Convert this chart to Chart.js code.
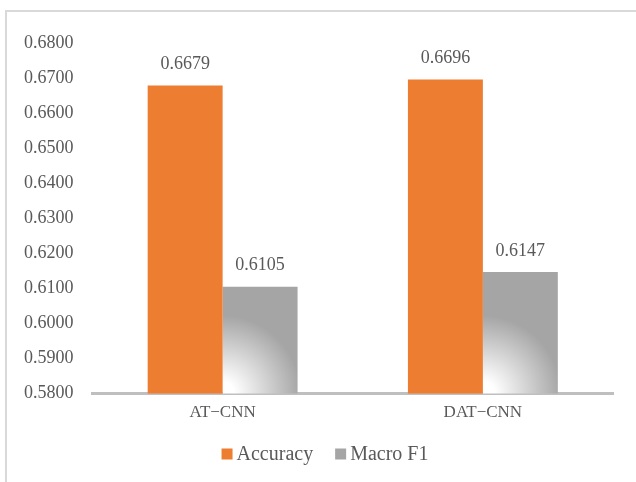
<!DOCTYPE html>
<html>
<head>
<meta charset="utf-8">
<script src="https://cdn.jsdelivr.net/npm/chart.js@4/dist/chart.umd.min.js"></script>
<style>
  html, body { margin: 0; padding: 0; background: #fff; overflow: hidden; }
  #wrap { position: relative; width: 636px; height: 482px; }
  #frame { position: absolute; left: 5px; top: 10px; width: 700px; height: 600px;
           border-left: 2px solid #d9d9d9; border-top: 2px solid #d9d9d9; box-sizing: border-box; }
  canvas { position: absolute; left: 0; top: 0; }
</style>
</head>
<body>
<div id="wrap">
  <div id="frame"></div>
  <canvas id="c" width="636" height="482"></canvas>
</div>
<script>
const categories = ['AT\u2212CNN', 'DAT\u2212CNN'];
const accuracy = [0.6679, 0.6696];
const macroF1 = [0.6105, 0.6147];
const seriesNames = ['Accuracy', 'Macro F1'];

const ORANGE = '#ED7D31';
const GREY = '#A5A5A5';
const TEXT = '#595959';
const FONT = '"Liberation Serif", "DejaVu Serif", serif';

// Grey bars get a soft white glow in their lower-left corner
function greyFill(ctx) {
  const chart = ctx.chart;
  const xs = chart.scales.x, ys = chart.scales.y;
  if (!xs || !ys || ctx.type !== 'data') return GREY;
  const left = xs.getPixelForValue(ctx.dataIndex);
  const base = ys.getPixelForValue(ys.min);
  if (!isFinite(left) || !isFinite(base)) return GREY;
  const r = 78;
  const g = chart.ctx.createRadialGradient(left, base, 0, left, base, r);
  g.addColorStop(0, '#ffffff');
  g.addColorStop(0.15, '#ffffff');
  g.addColorStop(1, GREY);
  return g;
}

// Value printed above every bar
const valueLabels = {
  id: 'valueLabels',
  afterDatasetsDraw(chart) {
    const c = chart.ctx;
    c.save();
    c.font = '18px ' + FONT;
    c.fillStyle = TEXT;
    c.textAlign = 'center';
    c.textBaseline = 'middle';
    chart.data.datasets.forEach((ds, di) => {
      chart.getDatasetMeta(di).data.forEach((el, i) => {
        c.fillText(ds.data[i].toFixed(4), el.x, el.y - 21);
      });
    });
    c.restore();
  }
};

// Compact legend under the axis: square swatch, tight gap, then the series name
const bottomLegend = {
  id: 'bottomLegend',
  afterDraw(chart) {
    const c = chart.ctx;
    const box = 11, gap = 4, spacing = 22, y = 454;
    c.save();
    c.font = '20px ' + FONT;
    c.textBaseline = 'middle';
    c.textAlign = 'left';
    const items = chart.data.datasets.map((ds, i) => ({
      text: ds.label, color: i === 0 ? ORANGE : GREY,
      w: box + gap + c.measureText(ds.label).width
    }));
    const total = items.reduce((s, it) => s + it.w, 0) + spacing * (items.length - 1);
    let x = chart.width / 2 + 7 - total / 2;
    items.forEach(it => {
      c.fillStyle = it.color;
      c.fillRect(x, y - box / 2, box, box);
      c.fillStyle = TEXT;
      c.fillText(it.text, x + box + gap, y + 1);
      x += it.w + spacing;
    });
    c.restore();
  }
};

new Chart(document.getElementById('c'), {
  type: 'bar',
  data: {
    labels: categories,
    datasets: [
      { label: seriesNames[0], data: accuracy, backgroundColor: ORANGE,
        barPercentage: 1, categoryPercentage: 0.576 },
      { label: seriesNames[1], data: macroF1, backgroundColor: greyFill,
        barPercentage: 1, categoryPercentage: 0.576 }
    ]
  },
  options: {
    responsive: false,
    animation: false,
    layout: { padding: { left: 5, right: 23, top: 43, bottom: 50 } },
    plugins: {
      tooltip: { enabled: false },
      legend: { display: false }
    },
    scales: {
      x: {
        grid: { display: false, drawTicks: false },
        border: { display: true, color: '#BFBFBF', width: 3 },
        ticks: { color: TEXT, font: { family: FONT, size: 17 }, padding: 9 }
      },
      y: {
        min: 0.58, max: 0.68,
        grid: { display: false, drawTicks: false },
        border: { display: false },
        ticks: {
          stepSize: 0.01, color: TEXT, padding: 19,
          font: { family: FONT, size: 18 },
          callback: v => Number(v).toFixed(4)
        }
      }
    }
  },
  plugins: [valueLabels, bottomLegend]
});
</script>
</body>
</html>
